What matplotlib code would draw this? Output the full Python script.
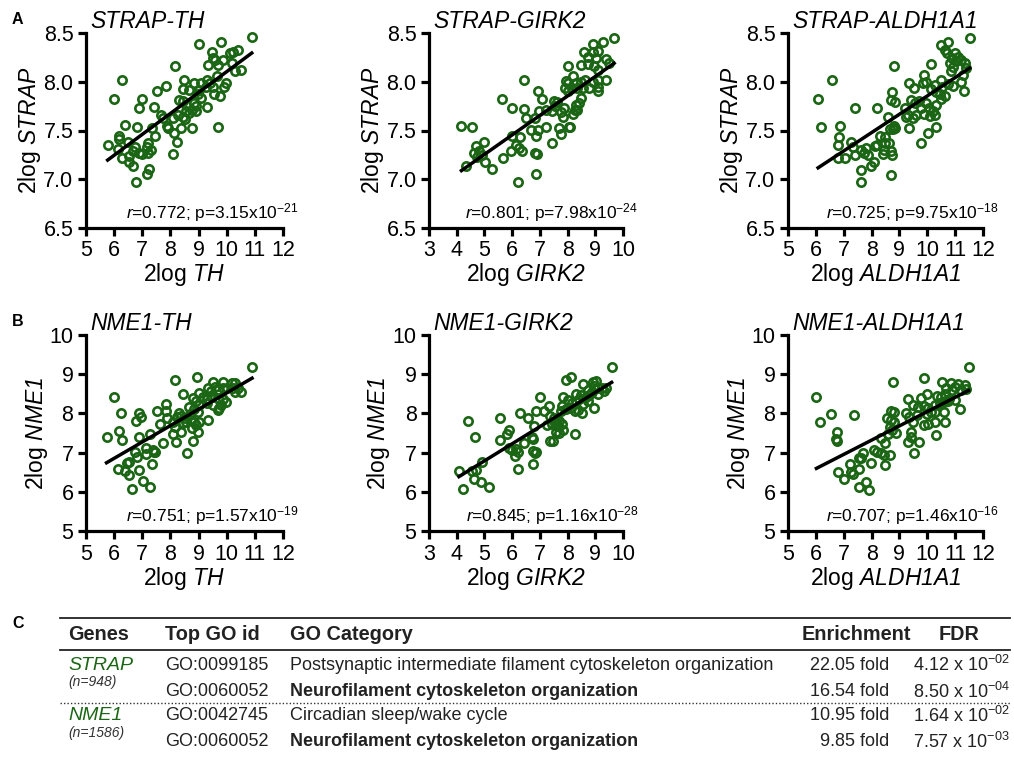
import numpy as np
import matplotlib
matplotlib.use('Agg')
import matplotlib.pyplot as plt
from matplotlib.lines import Line2D

# fonts - Arial-like everywhere, mathtext for italics and superscripts
plt.rcParams['font.family'] = ['Liberation Sans', 'DejaVu Sans']
plt.rcParams['mathtext.fontset'] = 'custom'
plt.rcParams['mathtext.rm'] = 'Liberation Sans'
plt.rcParams['mathtext.it'] = 'Liberation Sans:italic'
plt.rcParams['mathtext.sf'] = 'Liberation Sans:italic'   # italic digits too
plt.rcParams['mathtext.bf'] = 'Liberation Sans:bold'

green = '#1b6614'

# ---- panel A : STRAP vs TH / GIRK2 / ALDH1A1 ----
strap_th_x = [10.89, 9.0, 9.8, 9.48, 10.12, 10.24, 10.41, 9.86, 9.6, 9.53, 10.18, 9.35, 9.68, 10.5, 8.18,
              10.3, 9.64, 6.27, 8.47, 8.83, 9.29, 9.41, 9.5, 9.27, 9.09, 9.98, 9.9, 7.84, 7.52, 8.44,
              8.65, 9.0, 8.97, 9.09, 9.56, 9.76, 6.0, 6.98, 6.9, 7.43, 8.29, 8.44, 8.55, 8.85, 8.91,
              9.29, 8.77, 8.91, 8.67, 8.55, 7.67, 7.75, 8.1, 8.28, 8.44, 8.53, 7.87, 7.9, 6.4, 6.8,
              7.33, 8.38, 8.77, 9.7, 8.14, 7.45, 6.18, 6.16, 6.48, 8.22, 5.77, 6.13, 6.75, 7.19, 7.16,
              6.28, 6.54, 6.66, 6.9, 6.99, 7.31, 7.19, 6.54, 6.66, 8.1, 7.25, 7.16, 6.78]
strap_th_y = [8.46, 8.39, 8.41, 8.31, 8.29, 8.30, 8.33, 8.22, 8.22, 8.24, 8.19, 8.17, 8.17, 8.12, 8.16,
              8.11, 8.06, 8.02, 8.02, 7.99, 8.02, 7.99, 7.95, 7.95, 7.99, 7.99, 7.95, 7.96, 7.91, 7.93,
              7.92, 7.92, 7.87, 7.83, 7.87, 7.85, 7.82, 7.82, 7.73, 7.74, 7.81, 7.80, 7.76, 7.78, 7.75,
              7.74, 7.71, 7.70, 7.68, 7.70, 7.66, 7.63, 7.63, 7.66, 7.64, 7.62, 7.55, 7.53, 7.56, 7.54,
              7.53, 7.53, 7.53, 7.54, 7.47, 7.44, 7.44, 7.41, 7.38, 7.38, 7.35, 7.31, 7.33, 7.37, 7.33,
              7.22, 7.24, 7.29, 7.27, 7.26, 7.30, 7.27, 7.18, 7.14, 7.26, 7.11, 7.05, 6.97]

strap_girk2_x = [9.68, 8.9, 9.28, 8.6, 8.9, 9.11, 8.75, 9.02, 9.4, 9.5, 8.03, 8.48, 8.75, 8.96, 9.08,
                 6.41, 8.21, 7.93, 8.03, 7.91, 8.03, 8.29, 8.48, 8.63, 8.9, 9.08, 9.4, 8.17, 8.35, 8.56,
                 8.78, 9.11, 9.08, 6.95, 5.65, 7.09, 7.51, 7.63, 7.54, 8.29, 8.42, 8.48, 8.35, 8.26, 6.01,
                 6.41, 6.97, 7.21, 7.45, 7.75, 7.87, 6.51, 6.83, 7.84, 8.2, 4.17, 4.54, 7.21, 6.95, 7.69,
                 8.05, 8.1, 7.75, 6.67, 6.87, 5.98, 6.27, 7.45, 4.99, 4.68, 4.8, 4.62, 4.9, 4.74, 6.15,
                 6.25, 5.95, 6.35, 6.83, 6.91, 5.67, 5.02, 4.32, 5.26, 6.87, 6.22]
strap_girk2_y = [8.45, 8.39, 8.41, 8.30, 8.30, 8.32, 8.25, 8.24, 8.23, 8.19, 8.16, 8.17, 8.18, 8.16, 8.12,
                 8.02, 8.06, 8.01, 7.99, 7.94, 7.91, 7.99, 8.0, 8.02, 8.0, 8.02, 8.02, 7.94, 7.94, 7.94,
                 7.94, 7.91, 7.95, 7.91, 7.82, 7.82, 7.80, 7.79, 7.75, 7.76, 7.78, 7.83, 7.71, 7.71, 7.73,
                 7.72, 7.70, 7.71, 7.70, 7.69, 7.73, 7.63, 7.63, 7.64, 7.67, 7.55, 7.54, 7.54, 7.51, 7.53,
                 7.54, 7.54, 7.46, 7.51, 7.44, 7.44, 7.43, 7.37, 7.38, 7.34, 7.29, 7.27, 7.25, 7.23, 7.35,
                 7.32, 7.29, 7.29, 7.27, 7.26, 7.22, 7.18, 7.14, 7.11, 7.05, 6.97]

strap_aldh_x = [11.52, 10.5, 10.74, 10.62, 10.72, 10.89, 10.98, 11.1, 11.2, 11.34, 10.8, 10.92, 11.04,
                10.84, 11.28, 11.4, 11.22, 11.32, 8.8, 10.14, 6.58, 9.88, 9.96, 9.84, 10.48, 10.29,
                10.53, 10.74, 10.92, 9.33, 9.52, 10.14, 10.32, 10.44, 10.62, 10.5, 6.08, 8.74, 8.68,
                8.85, 9.4, 9.55, 9.72, 9.78, 9.96, 8.21, 7.42, 10.05, 10.2, 10.32, 10.26, 10.08, 9.88,
                9.19, 9.31, 9.25, 9.49, 9.61, 8.59, 6.2, 6.85, 8.8, 8.85, 8.77, 8.65, 9.33, 10.32, 6.82,
                8.29, 8.47, 10.02, 6.79, 7.27, 7.33, 8.21, 8.47, 8.44, 8.61, 9.78, 7.61, 7.81, 7.42,
                7.87, 8.13, 8.41, 8.71, 8.73, 6.79, 7.03, 7.73, 8.09, 7.97, 7.61, 8.71, 7.63]
strap_aldh_y = [8.45, 8.38, 8.41, 8.33, 8.29, 8.24, 8.29, 8.25, 8.22, 8.19, 8.19, 8.15, 8.21,
                8.11, 8.07, 8.14, 8.0, 7.91, 8.16, 8.18, 8.02, 8.07, 8.0, 7.99, 8.02, 7.97,
                7.95, 7.98, 7.96, 7.99, 7.94, 7.93, 7.9, 7.87, 7.85, 7.82, 7.82, 7.9, 7.81,
                7.79, 7.81, 7.78, 7.8, 7.73, 7.78, 7.73, 7.73, 7.73, 7.70, 7.76, 7.66, 7.65, 7.67,
                7.73, 7.66, 7.64, 7.63, 7.66, 7.64, 7.54, 7.55, 7.55, 7.53, 7.52, 7.52, 7.53, 7.54, 7.43,
                7.44, 7.43, 7.47, 7.35, 7.38, 7.33, 7.35, 7.37, 7.30, 7.37, 7.37, 7.30, 7.32, 7.25,
                7.25, 7.34, 7.26, 7.29, 7.25, 7.22, 7.22, 7.27, 7.18, 7.14, 7.10, 7.04, 6.97]

# ---- panel B : NME1 vs TH / GIRK2 / ALDH1A1 ----
nme1_th_x = [10.9, 8.95, 8.18, 9.5, 9.86, 10.19, 10.31, 9.32, 9.44, 9.6, 9.68, 9.86, 10.0, 10.21, 10.39,
             10.51, 10.31, 6.0, 8.46, 9.0, 9.15, 9.29, 9.48, 9.68, 9.88, 9.98, 8.79, 8.91, 9.03, 9.29,
             9.5, 9.72, 9.8, 9.68, 7.84, 7.52, 8.65, 8.85, 8.97, 6.24, 6.9, 6.95, 6.78, 7.84, 7.87,
             8.29, 8.22, 8.38, 8.53, 8.55, 8.7, 8.73, 8.85, 9.0, 8.91, 7.63, 8.1, 8.18, 8.46, 9.35,
             8.77, 8.97, 6.16, 6.28, 5.73, 6.87, 7.27, 8.08, 8.38, 8.2, 8.79, 7.75, 7.13, 7.37, 7.46,
             7.43, 6.75, 6.8, 7.13, 8.59, 6.54, 6.45, 7.35, 6.13, 6.4, 6.9, 6.54, 7.04, 7.27, 6.64]
nme1_th_y = [9.19, 8.94, 8.84, 8.81, 8.81, 8.77, 8.77, 8.64, 8.57, 8.68, 8.60, 8.64, 8.66, 8.64, 8.64,
             8.54, 8.55, 8.43, 8.49, 8.51, 8.43, 8.38, 8.43, 8.40, 8.37, 8.30, 8.40, 8.32, 8.21, 8.26,
             8.21, 8.15, 8.21, 8.09, 8.23, 8.06, 8.17, 8.11, 8.03, 8.0, 8.0, 7.92, 7.81, 8.06, 7.87,
             8.0, 7.92, 7.94, 7.89, 7.77, 7.98, 7.83, 7.77, 7.79, 7.70, 7.72, 7.77, 7.66, 7.75, 7.83,
             7.64, 7.52, 7.55, 7.32, 7.41, 7.41, 7.47, 7.47, 7.52, 7.28, 7.30, 7.24, 7.11, 7.07, 7.02,
             7.01, 7.01, 6.90, 6.96, 6.98, 6.75, 6.73, 6.70, 6.58, 6.53, 6.56, 6.43, 6.28, 6.13, 6.07]

nme1_girk2_x = [9.59, 8.11, 7.93, 8.54, 8.9, 9.02, 8.96, 9.08, 9.26, 9.32, 9.38, 8.75, 8.87, 7.0, 7.84,
                8.29, 8.48, 8.66, 8.78, 9.08, 8.0, 8.15, 8.29, 8.42, 8.56, 8.75, 7.33, 7.79, 7.75, 7.93,
                8.11, 8.27, 8.39, 8.51, 8.96, 6.87, 7.15, 6.59, 6.27, 5.55, 4.42, 7.36, 7.51, 7.57, 7.69,
                7.79, 7.63, 7.45, 7.24, 6.79, 5.89, 5.83, 7.84, 7.57, 7.69, 8.27, 4.66, 5.55, 6.73, 6.75,
                7.36, 7.48, 6.41, 5.89, 6.01, 6.15, 6.22, 6.1, 6.75, 6.83, 6.85, 4.9, 6.75, 4.08, 4.54,
                4.71, 6.22, 4.62, 4.87, 5.17, 4.23]
nme1_girk2_y = [9.19, 8.94, 8.84, 8.74, 8.79, 8.83, 8.71, 8.66, 8.66, 8.57, 8.64, 8.60, 8.55, 8.43, 8.43,
                8.49, 8.47, 8.43, 8.47, 8.49, 8.34, 8.26, 8.30, 8.38, 8.23, 8.32, 8.20, 8.20, 8.06, 8.11,
                8.15, 8.06, 8.09, 8.0, 8.15, 8.06, 8.06, 7.89, 8.0, 7.89, 7.81, 7.94, 7.87, 7.77, 7.81,
                7.72, 7.69, 7.72, 7.70, 7.69, 7.58, 7.47, 7.58, 7.53, 7.49, 7.47, 7.41, 7.32, 7.41, 7.35,
                7.30, 7.30, 7.24, 7.13, 7.07, 7.09, 7.01, 6.92, 7.04, 6.98, 7.02, 6.75, 6.70, 6.53, 6.53,
                6.56, 6.58, 6.33, 6.26, 6.13, 6.07]

nme1_aldh_x = [11.48, 9.88, 8.77, 10.53, 10.84, 10.98, 11.1, 11.34, 10.68, 10.89, 11.22, 11.4, 6.02, 9.31,
               9.78, 9.99, 10.36, 10.5, 10.62, 10.77, 10.98, 9.49, 9.67, 9.88, 10.02, 10.26, 10.44, 10.6,
               10.74, 8.68, 8.8, 8.56, 9.25, 9.33, 9.64, 9.99, 10.12, 10.26, 10.6, 11.16, 6.53, 7.37,
               6.14, 8.68, 8.8, 9.49, 9.88, 10.02, 10.29, 10.62, 8.65, 8.73, 8.89, 8.59, 9.43, 9.4,
               10.32, 6.77, 6.73, 6.77, 8.35, 8.47, 9.31, 9.72, 8.09, 8.21, 8.33, 7.69, 7.54, 8.44,
               8.65, 9.52, 7.99, 7.21, 7.61, 8.49, 6.79, 7.27, 7.55, 7.33, 7.01, 7.81, 7.54, 7.89]
nme1_aldh_y = [9.18, 8.91, 8.81, 8.79, 8.77, 8.68, 8.74, 8.72, 8.66, 8.60, 8.60, 8.62, 8.41, 8.38,
               8.40, 8.49, 8.45, 8.43, 8.49, 8.38, 8.34, 8.21, 8.17, 8.20, 8.15, 8.21, 8.26, 8.30,
               8.32, 8.06, 8.03, 7.89, 8.0, 7.92, 7.96, 7.98, 8.03, 8.04, 8.04, 8.11, 7.98, 7.96,
               7.79, 7.83, 7.79, 7.79, 7.70, 7.72, 7.77, 7.77, 7.66, 7.58, 7.49, 7.47, 7.53, 7.41,
               7.45, 7.53, 7.35, 7.30, 7.36, 7.24, 7.26, 7.26, 7.07, 7.02, 6.98, 6.98, 6.87, 6.94,
               6.94, 6.98, 6.73, 6.70, 6.87, 6.68, 6.51, 6.51, 6.58, 6.45, 6.33, 6.26, 6.11, 6.05]

# panel settings: title, x gene, y gene, x data, y data, x ticks, y ticks, r, p mantissa, p exponent
panels = [
    ('STRAP-TH', 'TH', 'STRAP', strap_th_x, strap_th_y, range(5, 13), [6.5, 7.0, 7.5, 8.0, 8.5], '0.772', '3.15', '-21'),
    ('STRAP-GIRK2', 'GIRK2', 'STRAP', strap_girk2_x, strap_girk2_y, range(3, 11), [6.5, 7.0, 7.5, 8.0, 8.5], '0.801', '7.98', '-24'),
    ('STRAP-ALDH1A1', 'ALDH1A1', 'STRAP', strap_aldh_x, strap_aldh_y, range(5, 13), [6.5, 7.0, 7.5, 8.0, 8.5], '0.725', '9.75', '-18'),
    ('NME1-TH', 'TH', 'NME1', nme1_th_x, nme1_th_y, range(5, 13), [5, 6, 7, 8, 9, 10], '0.751', '1.57', '-19'),
    ('NME1-GIRK2', 'GIRK2', 'NME1', nme1_girk2_x, nme1_girk2_y, range(3, 11), [5, 6, 7, 8, 9, 10], '0.845', '1.16', '-28'),
    ('NME1-ALDH1A1', 'ALDH1A1', 'NME1', nme1_aldh_x, nme1_aldh_y, range(5, 13), [5, 6, 7, 8, 9, 10], '0.707', '1.46', '-16'),
]

# ---- panel C : GO table ----
gene_names = ['STRAP', 'NME1']
gene_counts = ['(n=948)', '(n=1586)']
go_ids = ['GO:0099185', 'GO:0060052', 'GO:0042745', 'GO:0060052']
go_categories = ['Postsynaptic intermediate filament cytoskeleton organization',
                 'Neurofilament cytoskeleton organization',
                 'Circadian sleep/wake cycle',
                 'Neurofilament cytoskeleton organization']
go_bold = [False, True, False, True]
enrichment = ['22.05 fold', '16.54 fold', '10.95 fold', '9.85 fold']
fdr_mant = ['4.12', '8.50', '1.64', '7.57']
fdr_exp = ['-02', '-04', '-02', '-03']

W, H = 1014, 768
fig = plt.figure(figsize=(W / 100, H / 100), dpi=100)

def fx(px):
    return px / W

def fy(py):
    return 1 - py / H

# axes boxes in pixels (left, right, top, bottom)
boxes = [(86, 283, 33, 228), (429, 623, 33, 228), (788, 983, 33, 228),
         (86, 283, 335, 531), (429, 623, 335, 531), (788, 983, 335, 531)]

for (title, xg, yg, xs, ys, xt, yt, r, pm, pe), (l, rr, t, b) in zip(panels, boxes):
    ax = fig.add_axes([fx(l), fy(b), (rr - l) / W, (b - t) / H])
    xs = np.array(xs)
    ys = np.array(ys)
    ax.plot(xs, ys, 'o', ms=6, mfc='none', mec=green, mew=1.9, clip_on=False, zorder=2)
    k, c = np.polyfit(xs, ys, 1)
    xl = np.array([xs.min(), xs.max()])
    ax.plot(xl, k * xl + c, color='black', lw=2.5, zorder=3)
    ax.set_xlim(xt[0], xt[-1])
    ax.set_ylim(yt[0], yt[-1])
    ax.set_xticks(list(xt))
    ax.set_yticks(yt)
    if yt[0] == 6.5:
        ax.set_yticklabels(['%.1f' % v for v in yt])
    for s in ['top', 'right']:
        ax.spines[s].set_visible(False)
    for s in ['left', 'bottom']:
        ax.spines[s].set_linewidth(2.3)
    ax.tick_params(direction='out', length=6, width=2.3, labelsize=15.5, pad=3)
    ax.set_xlabel('2log $\\mathsf{%s}$' % xg, fontsize=16.5, labelpad=0)
    ax.set_ylabel('2log $\\mathsf{%s}$' % yg, fontsize=16.5, labelpad=0)
    ax.text(0.02, 1.06, title, transform=ax.transAxes, fontsize=16.5, style='italic',
            ha='left', va='center')
    ax.text(1.08, 0.08, '$\\mathit{r}$=%s; p=%sx10$^{%s}$' % (r, pm, pe), transform=ax.transAxes,
            fontsize=12.5, ha='right', va='center')
    ax.patch.set_alpha(0)

# panel letters
fig.text(fx(12), fy(20), 'A', fontsize=11.5, fontweight='bold', va='center')
fig.text(fx(12), fy(322), 'B', fontsize=11.5, fontweight='bold', va='center')
fig.text(fx(12), fy(624), 'C', fontsize=11.5, fontweight='bold', va='center')

# table rules
fig.add_artist(Line2D([fx(60), fx(1010)], [fy(618), fy(618)], color='#222222', lw=1.3))
fig.add_artist(Line2D([fx(60), fx(1010)], [fy(650), fy(650)], color='#222222', lw=1.3))
fig.add_artist(Line2D([fx(60), fx(1010)], [fy(703), fy(703)], color='#333333', lw=1.0,
                      linestyle=(0, (1, 1.5))))

# header
hy = fy(635)
for x, lab in [(68, 'Genes'), (165, 'Top GO id'), (290, 'GO Category'), (802, 'Enrichment'), (939, 'FDR')]:
    fig.text(fx(x), hy, lab, fontsize=14.3, fontweight='bold', va='center', color='#222222')

row_y = [665, 692, 716, 742]
for i, gname in enumerate(gene_names):
    fig.text(fx(68), fy(row_y[2 * i]), gname, fontsize=14, style='italic', color=green, va='center')
    fig.text(fx(68), fy(row_y[2 * i] + 17), gene_counts[i], fontsize=10, style='italic', color='#333333',
             va='center')

for i in range(4):
    y = fy(row_y[i])
    fig.text(fx(165), y, go_ids[i], fontsize=13, va='center', color='#222222')
    fig.text(fx(290), y, go_categories[i], fontsize=13, va='center', color='#222222',
             fontweight='bold' if go_bold[i] else 'normal')
    fig.text(fx(889), y, enrichment[i], fontsize=13, va='center', ha='right', color='#222222')
    fig.text(fx(1010), y, '%s x 10$^{%s}$' % (fdr_mant[i], fdr_exp[i]), fontsize=13, va='center',
             ha='right', color='#222222')

fig.savefig('out.png', dpi=100)
